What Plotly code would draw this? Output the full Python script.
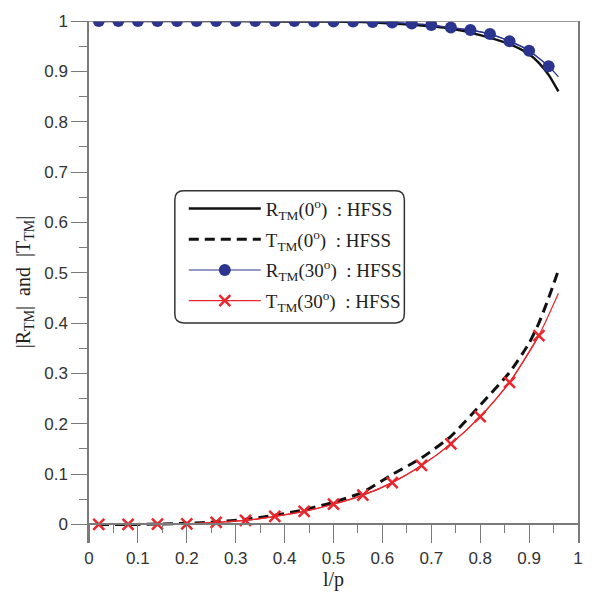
import plotly.graph_objects as go

# ---- data ----
x_r0 = [0.02, 0.10, 0.20, 0.30, 0.40, 0.50, 0.56, 0.62, 0.68, 0.74, 0.80, 0.86, 0.90, 0.92, 0.94, 0.96]
r0 = [1.000, 1.000, 1.000, 1.000, 0.999, 0.999, 0.998, 0.995, 0.991, 0.985, 0.972, 0.954, 0.934, 0.917, 0.893, 0.860]

x_t0 = [0.02, 0.10, 0.20, 0.26, 0.32, 0.38, 0.44, 0.50, 0.56, 0.62, 0.68, 0.74, 0.80, 0.86, 0.90, 0.92, 0.94, 0.96]
t0 = [0.000, 0.000, 0.002, 0.005, 0.010, 0.018, 0.029, 0.044, 0.064, 0.099, 0.132, 0.175, 0.237, 0.302, 0.360, 0.400, 0.450, 0.505]

x_r30_pts = [0.02, 0.06, 0.10, 0.14, 0.18, 0.22, 0.26, 0.30, 0.34, 0.38, 0.42, 0.46,
             0.50, 0.54, 0.58, 0.62, 0.66, 0.70, 0.74, 0.78, 0.82, 0.86, 0.90, 0.94]
r30_pts = [1.000, 1.000, 1.000, 1.000, 1.000, 1.000, 1.000, 1.000, 1.000, 1.000, 1.000, 0.999,
           0.999, 0.999, 0.998, 0.997, 0.995, 0.992, 0.987, 0.982, 0.974, 0.960, 0.941, 0.910]
x_r30_line = x_r30_pts + [0.96]
r30_line = r30_pts + [0.889]

x_t30_pts = [0.02, 0.08, 0.14, 0.20, 0.26, 0.32, 0.38, 0.44, 0.50, 0.56, 0.62, 0.68, 0.74, 0.80, 0.86, 0.92]
t30_pts = [0.000, 0.000, 0.0005, 0.001, 0.004, 0.008, 0.016, 0.026, 0.040, 0.058, 0.083, 0.117, 0.160, 0.214, 0.282, 0.375]
x_t30_line = x_t30_pts + [0.96]
t30_line = t30_pts + [0.459]

x_ticks = [0, 0.1, 0.2, 0.3, 0.4, 0.5, 0.6, 0.7, 0.8, 0.9, 1]
x_ticklabels = ["0", "0.1", "0.2", "0.3", "0.4", "0.5", "0.6", "0.7", "0.8", "0.9", "1"]
y_ticks = [0, 0.1, 0.2, 0.3, 0.4, 0.5, 0.6, 0.7, 0.8, 0.9, 1]
y_ticklabels = ["0", "0.1", "0.2", "0.3", "0.4", "0.5", "0.6", "0.7", "0.8", "0.9", "1"]

names = ["R<sub>TM</sub>(0<sup>o</sup>)  : HFSS",
         "T<sub>TM</sub>(0<sup>o</sup>)  : HFSS",
         "R<sub>TM</sub>(30<sup>o</sup>)  : HFSS",
         "T<sub>TM</sub>(30<sup>o</sup>)  : HFSS"]

BLUE = "#2b3590"
RED = "#e8262c"
AXIS = "#7a7a7a"
SERIF = "Liberation Serif, Times New Roman, serif"
SANS = "Liberation Sans, Arial, sans-serif"

fig = go.Figure()

fig.add_trace(go.Scatter(x=x_r0, y=r0, mode="lines", name=names[0], legendgroup="a",
                         line=dict(color="#111111", width=2.5, shape="spline", smoothing=0.6)))
fig.add_trace(go.Scatter(x=x_t0, y=t0, mode="lines", name=names[1], legendgroup="b",
                         line=dict(color="#111111", width=3, dash="10px,6px", shape="spline", smoothing=0.6)))
fig.add_trace(go.Scatter(x=x_r30_line, y=r30_line, mode="lines", showlegend=False, legendgroup="c",
                         line=dict(color=BLUE, width=1.2, shape="spline", smoothing=0.6)))
fig.add_trace(go.Scatter(x=x_r30_pts, y=r30_pts, mode="lines+markers", name=names[2], legendgroup="c",
                         line=dict(color=BLUE, width=1.2, shape="spline", smoothing=0.6),
                         marker=dict(symbol="circle", size=12, color=BLUE)))
fig.add_trace(go.Scatter(x=x_t30_line, y=t30_line, mode="lines", showlegend=False, legendgroup="d",
                         line=dict(color=RED, width=1.2, shape="spline", smoothing=0.6)))
fig.add_trace(go.Scatter(x=x_t30_pts, y=t30_pts, mode="lines+markers", name=names[3], legendgroup="d",
                         line=dict(color=RED, width=1.2, shape="spline", smoothing=0.6),
                         marker=dict(symbol="x-thin", size=11, color=RED,
                                     line=dict(color=RED, width=2.5))))

L, R, T, B = 89, 16, 14, 56
W, H = 595, 599
plot_w = W - L - R
plot_h = H - T - B
y_lo = -0.037
x_axis_pos = (0 - y_lo) / (1 - y_lo)


def px(xp):
    return (xp - L) / plot_w


def py(yp):
    return (H - B - yp) / plot_h


# rounded legend frame (pixels in the page)
bx0, by0, bx1, by1, rad = 175, 186, 405, 320, 9
path = (f"M {px(bx0 + rad)},{py(by0)} L {px(bx1 - rad)},{py(by0)} "
        f"Q {px(bx1)},{py(by0)} {px(bx1)},{py(by0 + rad)} "
        f"L {px(bx1)},{py(by1 - rad)} Q {px(bx1)},{py(by1)} {px(bx1 - rad)},{py(by1)} "
        f"L {px(bx0 + rad)},{py(by1)} Q {px(bx0)},{py(by1)} {px(bx0)},{py(by1 - rad)} "
        f"L {px(bx0)},{py(by0 + rad)} Q {px(bx0)},{py(by0)} {px(bx0 + rad)},{py(by0)} Z")

fig.update_layout(
    width=W, height=H,
    margin=dict(l=L, r=R, t=T, b=B),
    paper_bgcolor="white", plot_bgcolor="white",
    showlegend=True,
    legend=dict(
        x=px(184), y=py(185),
        xanchor="left", yanchor="top",
        bgcolor="rgba(0,0,0,0)", borderwidth=0,
        font=dict(family=SERIF, size=19, color="#222222"),
        traceorder="grouped", tracegroupgap=3, itemwidth=72,
    ),
    xaxis=dict(
        range=[0, 1], anchor="free", position=x_axis_pos,
        tickmode="array", tickvals=x_ticks, ticktext=x_ticklabels,
        ticks="outside", ticklen=18, tickwidth=1.3, tickcolor=AXIS,
        minor=dict(dtick=0.05, ticks="outside", ticklen=8, tickwidth=1.3, tickcolor=AXIS),
        showline=True, linecolor=AXIS, linewidth=1.5,
        showgrid=False, zeroline=False,
        tickfont=dict(family=SANS, size=17, color="#333333"),
        title=dict(text="l/p", font=dict(family=SERIF, size=20, color="#222222"), standoff=2),
    ),
    yaxis=dict(
        range=[y_lo, 1],
        tickmode="array", tickvals=y_ticks, ticktext=y_ticklabels,
        ticks="outside", ticklen=16, tickwidth=1.3, tickcolor=AXIS,
        minor=dict(dtick=0.05, tick0=0, ticks="outside", ticklen=8, tickwidth=1.3, tickcolor=AXIS),
        showline=True, linecolor=AXIS, linewidth=1.5, mirror=True,
        showgrid=False, zeroline=False,
        tickfont=dict(family=SANS, size=17, color="#333333"),
        title=dict(text="|R<sub>TM</sub>|  and  |T<sub>TM</sub>|",
                   font=dict(family=SERIF, size=20, color="#222222"), standoff=8),
    ),
    shapes=[
        dict(type="line", xref="paper", yref="y", x0=0, x1=1, y0=1, y1=1,
             line=dict(color=AXIS, width=1.5)),
        dict(type="path", xref="paper", yref="paper", path=path, layer="above",
             fillcolor="white", line=dict(color="#333333", width=1.5)),
    ],
)

fig.write_html("out.html")
